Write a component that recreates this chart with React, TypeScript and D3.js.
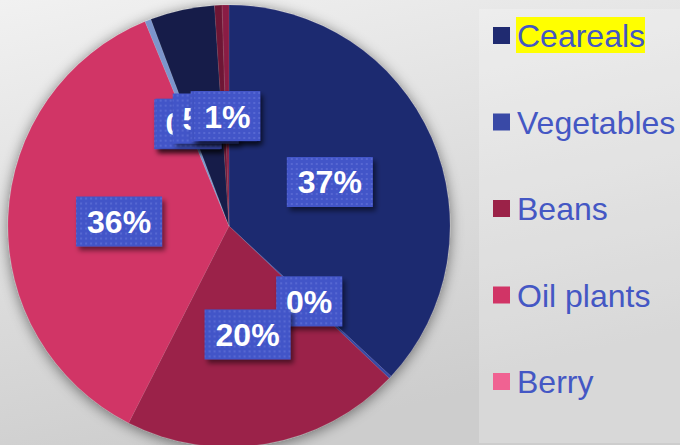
import React from "react";
import * as d3 from "d3";

const categories = ["Ceareals", "Vegetables", "Beans", "Oil plants", "Berry", "Series 6", "Series 7", "Series 8", "Series 9"];
const values = [36.9, 0.2, 20.4, 36.3, 0, 0.45, 4.7, 0.55, 0.5];
const colors = ["#1f2a70", "#3949a6", "#9b2248", "#d13466", "#f06292", "#7b95cc", "#151c48", "#6e1836", "#8a1f45"];
const legendCount = 5;

const W = 680;
const H = 445;
const cx = 229;
const cy = 226;
const R = 221;
const labelR = 110;

export default function App() {
  const total = d3.sum(values);
  const pie = d3.pie<number>().sort(null).value((d) => d);
  const arcs = pie(values);
  const arcGen = d3.arc<d3.PieArcDatum<number>>().innerRadius(0).outerRadius(R);
  const labelArc = d3.arc<d3.PieArcDatum<number>>().innerRadius(labelR).outerRadius(labelR);
  const fmt = (v: number) => `${Math.round((v / total) * 100 + 1e-9)}%`;
  const legendY = d3.scalePoint<number>().domain(d3.range(legendCount)).range([35.5, 381.5]);

  return (
    <svg width={W} height={H} style={{ position: "absolute", left: 0, top: 0 }} fontFamily="Liberation Sans, Arial, sans-serif">
      <defs>
        <linearGradient id="bg" x1="0" y1="0" x2="0.35" y2="1">
          <stop offset="0" stopColor="#f1f1f1" />
          <stop offset="1" stopColor="#cdcdcd" />
        </linearGradient>
        <filter id="pieShadow" x="-20%" y="-20%" width="140%" height="140%">
          <feGaussianBlur in="SourceAlpha" stdDeviation="7" />
          <feOffset dx="0" dy="2" result="b" />
          <feComponentTransfer>
            <feFuncA type="linear" slope="0.5" />
          </feComponentTransfer>
          <feMerge>
            <feMergeNode />
            <feMergeNode in="SourceGraphic" />
          </feMerge>
        </filter>
        <filter id="boxShadow" x="-20%" y="-20%" width="150%" height="160%">
          <feDropShadow dx="3" dy="4" stdDeviation="2.5" floodColor="#000" floodOpacity="0.5" />
        </filter>
        <pattern id="dots" width="5" height="5" patternUnits="userSpaceOnUse">
          <rect width="5" height="5" fill="#4355c8" />
          <rect x="1" y="1" width="2" height="2" fill="#5668d2" />
        </pattern>
      </defs>
      <rect width={W} height={H} fill="url(#bg)" />
      <rect x={479} y={9} width={W - 479} height={434} fill="#ffffff" opacity={0.22} />

      <g transform={`translate(${cx},${cy})`} filter="url(#pieShadow)">
        {arcs.map((a, i) => (
          <path key={i} d={arcGen(a) || ""} fill={colors[i]} stroke="#ffffff" strokeOpacity={0.12} strokeWidth={0.6} />
        ))}
      </g>

      <g transform={`translate(${cx},${cy})`}>
        {arcs.map((a, i) => {
          const [x, y] = labelArc.centroid(a);
          const txt = fmt(values[i]);
          const tw = txt.length === 2 ? 46 : 66;
          const bw = tw + 20;
          const bh = 50;
          return (
            <g key={i} transform={`translate(${x},${y})`}>
              <rect x={-bw / 2} y={-bh / 2} width={bw} height={bh} fill="url(#dots)" filter="url(#boxShadow)" />
              <text x={0} y={11.5} textAnchor="middle" fill="#ffffff" fontWeight="bold" fontSize={32}>
                {txt}
              </text>
            </g>
          );
        })}
      </g>

      <rect x={516} y={17} width={129} height={36} fill="#ffff00" />
      {categories.slice(0, legendCount).map((c, i) => {
        const y = legendY(i) as number;
        return (
          <g key={c}>
            <rect x={493} y={y - 8.5} width={17} height={17} fill={colors[i]} />
            <text x={517} y={y + 11.5} fontSize={32} fill="#4457c4">
              {c}
            </text>
          </g>
        );
      })}
    </svg>
  );
}
